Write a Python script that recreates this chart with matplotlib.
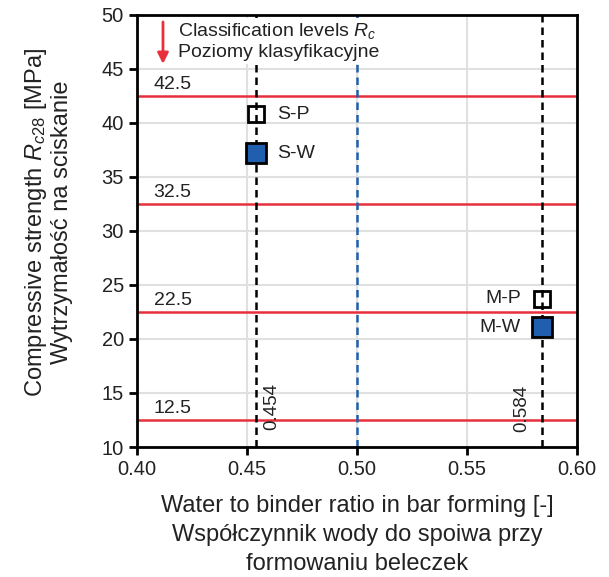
import matplotlib
matplotlib.use('Agg')
import matplotlib.pyplot as plt

plt.rcParams['font.family'] = ['Liberation Sans', 'DejaVu Sans']
plt.rcParams['mathtext.fontset'] = 'custom'
plt.rcParams['mathtext.rm'] = 'Liberation Sans'
plt.rcParams['mathtext.it'] = 'Liberation Sans:italic'

levels = [12.5, 22.5, 32.5, 42.5]
wb_lines = [0.454, 0.584]
wb_ref = 0.50

names = ['S-P', 'S-W', 'M-P', 'M-W']
wb = [0.454, 0.454, 0.584, 0.584]
rc = [40.8, 37.2, 23.7, 21.1]
filled = [False, True, False, True]

red = '#e8303c'
blue = '#1f5fad'
txt = '#222222'

fig = plt.figure(figsize=(6.09, 5.77), dpi=100)
ax = fig.add_axes([0.225, 0.2253, 0.7225, 0.749])

ax.set_xlim(0.40, 0.60)
ax.set_ylim(10, 50)
ax.set_xticks([0.40, 0.45, 0.50, 0.55, 0.60])
ax.set_yticks(range(10, 51, 5))
ax.grid(True, color='#e0e0e0', lw=1.5, zorder=0)

for lv in levels:
    ax.axhline(lv, color=red, lw=1.8, zorder=2)
    ax.text(0.4075, lv + 0.3, '%.1f' % lv, fontsize=14, va='bottom', ha='left', color=txt, zorder=3)

for x in wb_lines:
    ax.axvline(x, color='black', lw=1.8, ls=(0, (3, 2)), zorder=3)
ax.axvline(wb_ref, color=blue, lw=1.8, ls=(0, (3, 2)), zorder=3)

ax.text(0.4572, 11.6, '0.454', rotation=90, fontsize=13.5, ha='left', va='bottom', color=txt, zorder=3)
ax.text(0.5788, 11.4, '0.584', rotation=90, fontsize=13.5, ha='right', va='bottom', color=txt, zorder=3)

for n, x, y, f in zip(names, wb, rc, filled):
    if f:
        ax.plot(x, y, 's', ms=14, mfc=blue, mec='black', mew=2, zorder=5)
    else:
        ax.plot(x, y, 's', ms=11, mfc='none', mec='black', mew=2, zorder=5)
    if x < 0.5:
        ax.text(x + 0.0095, y, n, fontsize=14, va='center', ha='left', color=txt, zorder=5)
    else:
        ax.text(x - 0.0095, y, n, fontsize=14, va='center', ha='right', color=txt, zorder=5)

# legend box
ax.text(0.4186, 49.4, 'Classification levels $R_c$\nPoziomy klasyfikacyjne', fontsize=14,
        va='top', ha='left', linespacing=1.2, color=txt, zorder=6,
        bbox=dict(facecolor='white', edgecolor='none', pad=2))
ax.annotate('', xy=(0.4118, 45.2), xytext=(0.4118, 49.6),
            arrowprops=dict(arrowstyle='-|>', color=red, lw=2, mutation_scale=16), zorder=7)

ax.set_xlabel('Water to binder ratio in bar forming [-]\nWspółczynnik wody do spoiwa przy\nformowaniu beleczek',
              fontsize=17, linespacing=1.4, color=txt)
ax.xaxis.set_label_coords(0.5, -0.112)
ax.set_ylabel('Compressive strength $R_{c28}$ [MPa]\nWytrzymałość na sciskanie', fontsize=17,
              linespacing=1.15, color=txt)
ax.yaxis.set_label_coords(-0.145, 0.52)
ax.tick_params(labelsize=14.5, width=2, length=6, direction='out', labelcolor=txt)
for s in ax.spines.values():
    s.set_linewidth(2)
    s.set_zorder(8)

fig.savefig('out.png', dpi=100)
